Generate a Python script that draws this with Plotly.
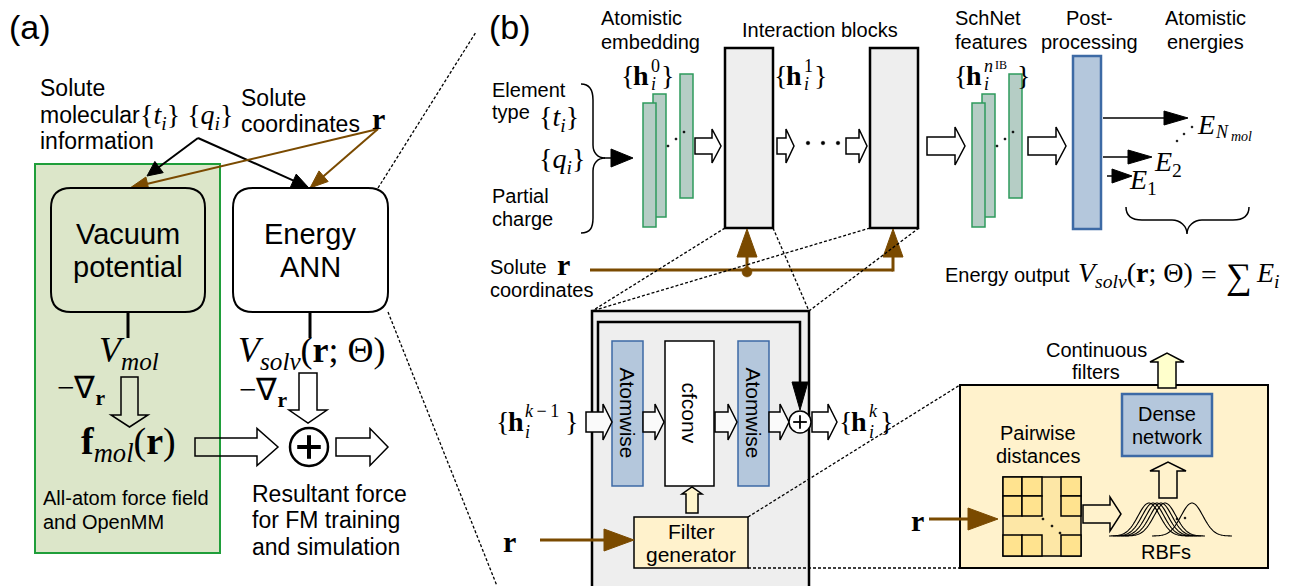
import numpy as np
import plotly.graph_objects as go

W, H = 1293, 586
SANS = "Liberation Sans, Arial, sans-serif"
SERIF = "Liberation Serif, Times New Roman, serif"
BROWN = "#7a4a00"
GREEN_LINE = "#1f9e3a"
GREEN_FILL = "#dce6c9"
BAR_FILL = "#b5cdc5"
BAR_LINE = "#2e9a5c"
BLUE_FILL = "#b4c7dc"
BLUE_LINE = "#3d6aa5"
GREY_FILL = "#eeeeee"
YELLOW_FILL = "#fff2cc"
CELL_FILL = "#ffe38f"
BAND_FILL = "#fde7a6"

# ---------------- text content ----------------
panel_labels = ["(a)", "(b)"]
solute_info_lines = ["Solute", "molecular", "information"]
solute_coord_lines = ["Solute", "coordinates"]
vacuum_lines = ["Vacuum", "potential"]
ann_lines = ["Energy", "ANN"]
forcefield_lines = ["All-atom force field", "and OpenMM"]
resultant_lines = ["Resultant force", "for FM training", "and simulation"]
embed_lines = ["Atomistic", "embedding"]
inter_label = "Interaction blocks"
schnet_lines = ["SchNet", "features"]
post_lines = ["Post-", "processing"]
energies_lines = ["Atomistic", "energies"]
element_lines = ["Element", "type"]
charge_lines = ["Partial", "charge"]
coord_lines_b = ["Solute", "coordinates"]
filter_lines = ["Filter", "generator"]
cont_lines = ["Continuous", "filters"]
dense_lines = ["Dense", "network"]
pair_lines = ["Pairwise", "distances"]
rbf_label = "RBFs"
atomwise_label = "Atomwise"
cfconv_label = "cfconv"
energy_output_label = "Energy output"
rbf_centers = [1149, 1153, 1157, 1161, 1165, 1192]
grid_cols = [1003, 1022, 1042, 1061, 1081]
grid_rows = [477, 496, 516, 535, 556]
grid_cells = [(0, 0), (1, 0), (3, 0), (0, 1), (1, 1), (3, 1), (0, 3), (1, 3), (3, 3)]

shapes = []
annots = []


def add_shape(**kw):
    kw.setdefault("xref", "x")
    kw.setdefault("yref", "y")
    kw.setdefault("layer", "above")
    shapes.append(kw)


def rect(x0, y0, x1, y1, fill="rgba(0,0,0,0)", line="black", w=1.5):
    add_shape(type="rect", x0=x0, y0=y0, x1=x1, y1=y1, fillcolor=fill,
              line=dict(color=line, width=w))


def poly(pts, fill=None, line="black", w=1.5, closed=True, dash="solid"):
    d = "M " + " L ".join(f"{x:.2f},{y:.2f}" for x, y in pts) + (" Z" if closed else "")
    add_shape(type="path", path=d, fillcolor=fill or "rgba(0,0,0,0)",
              line=dict(color=line, width=w, dash=dash))


def seg(x0, y0, x1, y1, color="black", w=1.5, dash="solid"):
    add_shape(type="line", x0=x0, y0=y0, x1=x1, y1=y1,
              line=dict(color=color, width=w, dash=dash))


def arrow(x0, y0, x1, y1, color="black", w=1.5, L=16, hw=7):
    dx, dy = x1 - x0, y1 - y0
    n = np.hypot(dx, dy)
    ux, uy = dx / n, dy / n
    px, py = -uy, ux
    bx, by = x1 - ux * L, y1 - uy * L
    seg(x0, y0, bx + ux * 2, by + uy * 2, color, w)
    poly([(x1, y1), (bx + px * hw, by + py * hw), (bx - px * hw, by - py * hw)],
         fill=color, line=color, w=1)


def hollow(x0, y0, x1, y1, bh, hh, hl, fill="white", w=1.5):
    dx, dy = x1 - x0, y1 - y0
    n = np.hypot(dx, dy)
    ux, uy = dx / n, dy / n
    px, py = -uy, ux
    local = [(0, -bh), (n - hl, -bh), (n - hl, -hh), (n, 0), (n - hl, hh), (n - hl, bh), (0, bh)]
    pts = [(x0 + ux * a + px * b, y0 + uy * a + py * b) for a, b in local]
    poly(pts, fill=fill, line="black", w=w)


def rrect(x0, y0, x1, y1, r, fill, line="black", w=2):
    d = (f"M {x0+r},{y0} L {x1-r},{y0} Q {x1},{y0} {x1},{y0+r} L {x1},{y1-r} "
         f"Q {x1},{y1} {x1-r},{y1} L {x0+r},{y1} Q {x0},{y1} {x0},{y1-r} "
         f"L {x0},{y0+r} Q {x0},{y0} {x0+r},{y0} Z")
    add_shape(type="path", path=d, fillcolor=fill, line=dict(color=line, width=w))


def dot(x, y, r=1.3, color="black"):
    add_shape(type="circle", x0=x - r, x1=x + r, y0=y - r, y1=y + r,
              fillcolor=color, line=dict(color=color, width=0.5))


def oplus(cx, cy, r, w, pw):
    add_shape(type="circle", x0=cx - r, x1=cx + r, y0=cy - r, y1=cy + r,
              fillcolor="white", line=dict(color="black", width=w))
    a = r * 0.62
    seg(cx - a, cy, cx + a, cy, "black", pw)
    seg(cx, cy - a, cx, cy + a, "black", pw)


def T(text, x, y, size=20, xa="left", font=SANS, angle=0, color="black"):
    annots.append(dict(text=text, x=x, y=y, xref="x", yref="y", xanchor=xa,
                       yanchor="middle", showarrow=False, textangle=angle,
                       font=dict(family=font, size=size, color=color)))


def lines(txts, x, ys, size=20, xa="left", font=SANS):
    for t, y in zip(txts, ys):
        T(t, x, y, size, xa, font)


def hset(xo, xh, xs, xc, yc, sup, size=28, ssize=18, up=9, down=9):
    T("{", xo, yc, size, font=SERIF)
    T("<b>h</b>", xh, yc, size, font=SERIF)
    T(sup, xs, yc - up, ssize, font=SERIF)
    T("<i>i</i>", xs, yc + down, ssize, font=SERIF)
    T("}", xc, yc, size, font=SERIF)


DOT = "3px,2px"

# ================= background panels =================
rect(35, 164, 220, 553, fill=GREEN_FILL, line=GREEN_LINE, w=2)
rect(592, 311, 809, 600, fill=GREY_FILL, line="black", w=2.5)
rect(960, 385, 1268, 568, fill=YELLOW_FILL, line="black", w=2)

# ================= panel (a) =================
arrow(198, 138, 147, 176, "black", 2, L=15, hw=7)
arrow(198, 138, 308, 187, "black", 2, L=16, hw=7)
arrow(378, 129, 130, 188, BROWN, 2, L=18, hw=7)
arrow(378, 129, 310, 188, BROWN, 2, L=18, hw=7)

rrect(51, 188, 205, 312, 20, GREEN_FILL, "black", 2)
rrect(233, 188, 388, 312, 20, "white", "black", 2)
seg(128, 312, 128, 338, "black", 3)
seg(310, 312, 310, 338, "black", 3)

hollow(129.5, 377, 129.5, 427, 8.5, 18.5, 12, fill="rgba(0,0,0,0)")
hollow(308, 373, 308, 423, 9, 19, 13, fill="rgba(0,0,0,0)")
hollow(195, 447, 278, 447, 9, 18.5, 21, fill="rgba(0,0,0,0)")
hollow(336, 447, 388, 447, 9, 18.5, 18, fill="rgba(0,0,0,0)")
oplus(309, 447, 19, 2.5, 4)

seg(378, 188, 476, 32, "black", 1.3, DOT)
seg(388, 312, 497, 586, "black", 1.3, DOT)

# ================= panel (b) top =================
add_shape(type="path",
          path="M 581,84 C 590,84 593,90 593,100 L 593,145 C 593,153 598,158 605,158 "
               "C 598,158 593,163 593,171 L 593,218 C 593,228 590,233 581,233",
          line=dict(color="black", width=1.5))
arrow(604, 158, 633, 158, "black", 1.5, L=22, hw=9)

rect(653, 94, 666, 217, BAR_FILL, BAR_LINE, 1.5)
rect(643, 103, 656, 227, BAR_FILL, BAR_LINE, 1.5)
rect(680, 74, 693, 198, BAR_FILL, BAR_LINE, 1.5)
for x, y in [(668, 146), (676, 139), (684, 132)]:
    dot(x, y, 1.1)

hollow(695, 146, 721, 146, 8, 17, 9)
rect(725, 48, 773, 228, GREY_FILL, "black", 2.5)
hollow(777, 146, 794, 146, 8, 17, 8)
for x in [808, 823, 838]:
    dot(x, 143, 1.8)
hollow(846, 146, 867, 146, 8, 17, 8)
rect(870, 48, 918, 228, GREY_FILL, "black", 2.5)
hollow(927, 146, 965, 146, 9, 19, 10)

rect(982, 94, 995, 217, BAR_FILL, BAR_LINE, 1.5)
rect(972, 103, 985, 227, BAR_FILL, BAR_LINE, 1.5)
rect(1009, 74, 1022, 198, BAR_FILL, BAR_LINE, 1.5)
for x, y in [(997, 146), (1005, 139), (1013, 132)]:
    dot(x, y, 1.1)
hollow(1028, 146, 1066, 146, 9, 19, 10)

rect(1073, 56, 1101, 229, BLUE_FILL, BLUE_LINE, 2.5)
arrow(1103, 118, 1188, 118, "black", 1.5, L=24, hw=7)
arrow(1103, 157, 1152, 157, "black", 1.5, L=24, hw=7)
arrow(1107, 176, 1132, 176, "black", 1.5, L=20, hw=7)
for x, y in [(1177, 141), (1184, 134), (1192, 127)]:
    dot(x, y, 1.0)

add_shape(type="path",
          path="M 1126,207 C 1126,216 1132,220 1142,220 L 1172,220 C 1180,220 1187,226 1187,234 "
               "C 1187,226 1194,220 1202,220 L 1233,220 C 1243,220 1249,216 1249,207",
          line=dict(color="black", width=1.5))

seg(590, 270, 893, 270, BROWN, 3)
arrow(747, 270, 747, 229, BROWN, 3, L=28, hw=10)
arrow(893, 271.5, 893, 229, BROWN, 3, L=28, hw=10)
dot(747, 272, 5, BROWN)

seg(725, 228, 592, 311, "black", 1.3, DOT)
seg(773, 228, 809, 311, "black", 1.3, DOT)
seg(870, 228, 592, 311, "black", 1.3, DOT)
seg(919, 228, 809, 311, "black", 1.3, DOT)

# ================= interaction block detail =================
poly([(598, 412), (598, 322), (800, 322), (800, 386)], closed=False, w=2.5)
arrow(800, 380, 800, 410, "black", 2, L=28, hw=8)
rect(612, 341, 643, 486, BLUE_FILL, BLUE_LINE, 1.5)
rect(665, 341, 714, 486, "white", "black", 1.5)
rect(738, 341, 769, 486, BLUE_FILL, BLUE_LINE, 1.5)
hollow(586, 422, 612, 422, 10, 18, 9, fill="#fafafa")
hollow(643, 422, 664, 422, 10, 18, 9, fill="#fafafa")
hollow(715, 422, 737, 422, 10, 18, 9, fill="#fafafa")
hollow(769, 422, 789, 422, 10, 18, 9, fill="#fafafa")
oplus(800, 422, 11, 1.5, 1.8)
hollow(812, 422, 837, 422, 10, 18, 9, fill="white")
hollow(692, 513, 692, 487, 6, 10, 7, fill="#fff5cc")
rect(634, 517, 748, 568, YELLOW_FILL, "black", 1.5)
arrow(540, 540, 634, 540, BROWN, 3, L=30, hw=11)

seg(748, 517, 960, 385, "black", 1.3, DOT)
seg(748, 568, 960, 568, "black", 1.3, DOT)

# ================= filter generator detail =================
hollow(1167, 388, 1167, 353, 9, 17, 9, fill="#ffffcc")
rect(1122, 394, 1212, 456, BLUE_FILL, BLUE_LINE, 2.5)
rect(grid_cols[0], grid_rows[0], grid_cols[-1], grid_rows[-1], BAND_FILL, "black", 1.5)
for c, r in grid_cells:
    rect(grid_cols[c], grid_rows[r], grid_cols[c + 1], grid_rows[r + 1], CELL_FILL, "black", 1.5)
for x, y in [(1043, 519), (1052, 526), (1060, 533)]:
    dot(x, y, 1.1)
arrow(929, 519, 998, 519, BROWN, 3, L=30, hw=11)
hollow(1083, 514, 1121, 514, 9, 17, 11, fill=YELLOW_FILL)
hollow(1168, 498, 1168, 462, 9, 18, 9, fill=YELLOW_FILL)
for c in rbf_centers:
    xs = np.linspace(c - 40, c + 40, 70)
    ys = 536 - 33 * np.exp(-0.5 * ((xs - c) / 11.0) ** 2)
    poly(list(zip(xs, ys)), closed=False, w=1.1)
for x, y in [(1177, 519), (1185, 518)]:
    dot(x, y, 1.0)

# ================= texts: panel (a) =================
T(panel_labels[0], 7, 27, 34)
lines(solute_info_lines, 38, [88, 115, 141], 23)
T("{<i>t</i><sub><i>i</i></sub>} {<i>q</i><sub><i>i</i></sub>}", 138, 116, 28, font=SERIF)
lines(solute_coord_lines, 239, [98, 124], 23)
T("<b>r</b>", 370, 118, 30, font=SERIF)
lines(vacuum_lines, 128, [234, 267], 29, xa="center")
lines(ann_lines, 310, [234, 267], 29, xa="center")
T("<i>V</i><sub><i>mol</i></sub>", 129, 352, 36, xa="center", font=SERIF)
T("<i>V</i><sub><i>solv</i></sub>(<b>r</b>; Θ)", 312, 352, 36, xa="center", font=SERIF)
T("−∇<sub><b>r</b></sub>", 55, 390, 31, font=SERIF)
T("−∇<sub><b>r</b></sub>", 237, 392, 31, font=SERIF)
T("<b>f</b><sub><i>mol</i></sub>(<b>r</b>)", 128, 444, 38, xa="center", font=SERIF)
lines(forcefield_lines, 41, [498, 522], 20)
lines(resultant_lines, 250, [494, 520, 547], 23)

# ================= texts: panel (b) =================
T(panel_labels[1], 487, 27, 34)
lines(embed_lines, 599, [18, 42], 20)
T(inter_label, 740, 30, 20)
lines(schnet_lines, 953, [18, 42], 20)
lines(post_lines, 1089, [18, 42], 20, xa="center")
lines(energies_lines, 1205, [18, 42], 20, xa="center")
lines(element_lines, 490, [90, 112], 20)
lines(charge_lines, 490, [196, 219], 20)
T("{<i>t</i><sub><i>i</i></sub>}", 537, 118, 28, font=SERIF)
T("{<i>q</i><sub><i>i</i></sub>}", 537, 160, 28, font=SERIF)
hset(619, 631, 649, 659, 75, "0")
hset(772, 784, 802, 812, 75, "1")
hset(952, 964, 982, 1015, 75, "<i>n</i>")
T("IB", 993, 65, 12, font=SERIF)
T("<i>E</i>", 1195, 124, 28, font=SERIF)
T("<i>N</i>", 1213, 132, 18, font=SERIF)
T("<i>mol</i>", 1229, 136, 14, font=SERIF)
T("<i>E</i><sub>2</sub>", 1152, 163, 28, font=SERIF)
T("<i>E</i><sub>1</sub>", 1127, 181, 28, font=SERIF)
lines(coord_lines_b, 488, [267, 290], 20)
T("<b>r</b>", 555, 264, 30, font=SERIF)
T(energy_output_label, 943, 275, 20)
T("<i>V</i><sub><i>solv</i></sub>(<b>r</b>; Θ)", 1076, 274, 28, font=SERIF)
T("=", 1199, 274, 28, font=SERIF)
T("∑", 1224, 276, 36, font=SERIF)
T("<i>E</i><sub><i>i</i></sub>", 1254, 274, 28, font=SERIF)

T(atomwise_label, 627.5, 413, 21, xa="center", angle=90)
T(cfconv_label, 689.5, 413, 21, xa="center", angle=90)
T(atomwise_label, 753.5, 413, 21, xa="center", angle=90)
hset(494, 506, 523, 563, 421, "<i>k</i>\u2009−\u20091", ssize=18, up=10, down=11)
hset(837, 849, 867, 878, 421, "<i>k</i>", up=10, down=11)
lines(filter_lines, 691, [531, 554], 21, xa="center")
T("<b>r</b>", 501, 541, 30, font=SERIF)
lines(cont_lines, 1096, [350, 372], 20, xa="center")
lines(dense_lines, 1167, [414, 437], 20, xa="center")
lines(pair_lines, 1038, [433, 456], 20, xa="center")
T("<b>r</b>", 909, 520, 30, font=SERIF)
T(rbf_label, 1166, 552, 20, xa="center")

fig = go.Figure()
fig.add_trace(go.Scatter(x=[0, W], y=[0, H], mode="markers",
                         marker=dict(opacity=0), hoverinfo="skip", showlegend=False))
fig.update_layout(
    width=W, height=H, margin=dict(l=0, r=0, t=0, b=0),
    paper_bgcolor="white", plot_bgcolor="white",
    xaxis=dict(range=[0, W], visible=False, fixedrange=True),
    yaxis=dict(range=[H, 0], visible=False, fixedrange=True),
    shapes=shapes, annotations=annots, showlegend=False,
)
fig.write_html("out.html", config={"displayModeBar": False},
               post_script="document.body.style.margin='0';document.body.style.overflow='hidden';")
